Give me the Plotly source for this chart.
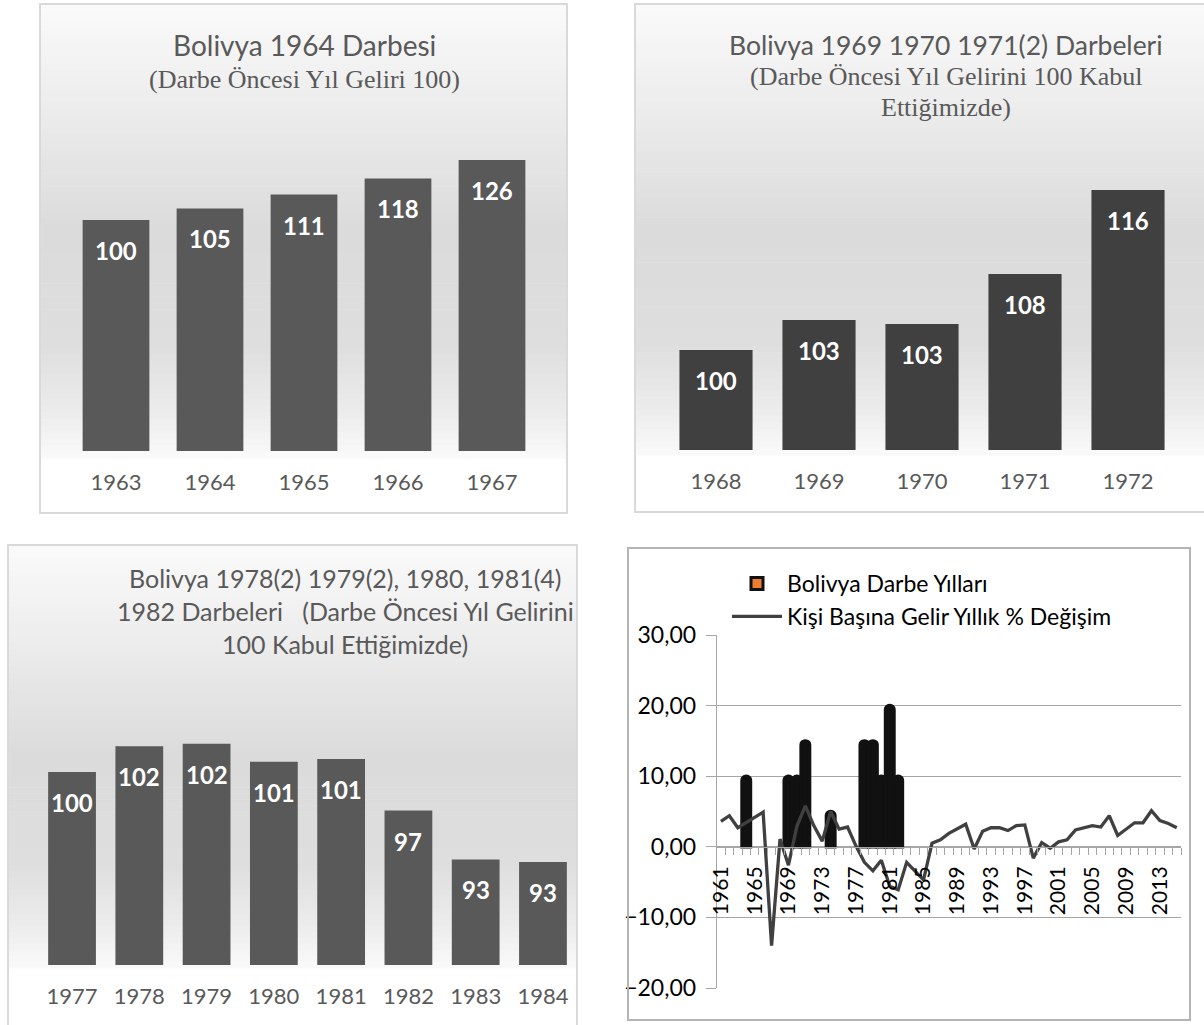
import plotly.graph_objects as go

W, H = 1204, 1025

# panel 1: 1964 coup
p1_years = ["1963", "1964", "1965", "1966", "1967"]
p1_vals = [100, 105, 111, 118, 126]

# panel 2: 1969-1971 coups
p2_years = ["1968", "1969", "1970", "1971", "1972"]
p2_vals = [100, 103.0, 102.6, 107.6, 116.0]

# panel 3: 1978-1982 coups
p3_years = ["1977", "1978", "1979", "1980", "1981", "1982", "1983", "1984"]
p3_vals = [100, 102.0, 102.2, 100.8, 101.0, 97.0, 93.2, 93.0]

# panel 4: coup years and per-capita income growth
coup_years = [1964, 1969, 1970, 1971, 1974, 1978, 1979, 1980, 1981, 1982]
coup_bars = [10, 10, 10, 15, 5, 15, 15, 10, 20, 10]
years = list(range(1961, 2016))
growth = [3.6, 4.4, 2.7, 3.4, 4.2, 4.9, -14.0, 1.1, -2.6, 2.9,
          5.8, 3.0, 0.8, 5.0, 2.5, 2.8, 0.1, -2.2, -3.4, -1.9,
          -5.6, -6.1, -2.2, -3.4, -4.7, 0.5, 1.0, 1.9, 2.6, 3.2,
          -0.3, 2.2, 2.7, 2.7, 2.3, 3.0, 3.1, -1.6, 0.6, -0.2,
          0.7, 1.0, 2.4, 2.7, 3.0, 2.8, 4.4, 1.6, 2.5, 3.4,
          3.4, 5.1, 3.7, 3.3, 2.7]
year_ticks = list(range(1961, 2016, 4))


def px(x):
    return x / W


def py(y):
    return 1 - y / H


SANS = "Lato, Calibri, sans-serif"
SERIF = "Liberation Serif, Times New Roman, serif"

fig = go.Figure()
shapes = []
annotations = []


def add_gradient(x0, x1, y0, y1, stops, n=70):
    # stepped vertical gradient (shapes have no gradient fill)
    for i in range(n):
        f = (i + 0.5) / n
        for (a, ga), (b, gb) in zip(stops[:-1], stops[1:]):
            if a <= f <= b:
                g = ga + (gb - ga) * (f - a) / (b - a)
                break
        g = int(round(g))
        ya = y0 + (y1 - y0) * i / n
        yb = y0 + (y1 - y0) * (i + 1) / n + 0.6
        shapes.append(dict(type="rect", xref="paper", yref="paper", layer="below",
                           x0=px(x0), x1=px(x1), y0=py(ya), y1=py(yb),
                           line=dict(width=0), fillcolor=f"rgb({g},{g},{g})"))


def add_box(x0, x1, y0, y1, color="#d9d9d9"):
    shapes.append(dict(type="rect", xref="paper", yref="paper", layer="above",
                       x0=px(x0), x1=px(x1), y0=py(y1), y1=py(y0),
                       line=dict(color=color, width=2), fillcolor="rgba(0,0,0,0)"))


stops = [(0, 250), (0.2, 238), (0.5, 219), (0.75, 222), (0.9, 236), (1.0, 250)]
add_gradient(40, 567, 5, 458, stops)
add_gradient(635, 1204, 5, 455, stops)
add_gradient(8, 577, 546, 968, stops)

add_box(40, 567, 4, 513)
add_box(635, 1205, 4, 512)
add_box(8, 577, 545, 1026)
add_box(628, 1190, 548, 1020, "#b4b4b4")

# ---- bar panels
panels = [
    ("x", "y", p1_years, p1_vals, "#595959", [69, 539], [451, 127.6], [0, 140]),
    ("x2", "y2", p2_years, p2_vals, "#404040", [664.5, 1179.5], [450, 130], [90, 122]),
    ("x3", "y3", p3_years, p3_vals, "#595959", [38.4, 576.6], [965, 643.25], [85, 110]),
]
layout_axes = {}
for i, (xa, ya, cats, vals, col, xd, yd, yr) in enumerate(panels):
    fig.add_trace(go.Bar(x=cats, y=vals, xaxis=xa, yaxis=ya, marker=dict(color=col, line=dict(width=0)),
                         width=0.71, showlegend=False, hoverinfo="skip"))
    xkey = "xaxis" if i == 0 else f"xaxis{i + 1}"
    ykey = "yaxis" if i == 0 else f"yaxis{i + 1}"
    layout_axes[xkey] = dict(domain=[px(xd[0]), px(xd[1])], anchor=ya, type="category",
                             range=[-0.5, len(cats) - 0.5], automargin=False,
                             showgrid=False, showline=False, ticks="", ticklabelstandoff=16,
                             tickfont=dict(family=SANS, size=22, color="#595959"))
    layout_axes[ykey] = dict(domain=[py(yd[0]), py(yd[1])], anchor=xa, range=yr,
                             visible=False, showgrid=False, automargin=False)
    # value labels, placed by category index
    for k, v in enumerate(vals):
        annotations.append(dict(x=k, y=v, xref=xa, yref=ya, text=f"<b>{v:.0f}</b>",
                                showarrow=False, yanchor="top", yshift=-14,
                                font=dict(family=SANS, size=24, color="white")))

# ---- combo panel
fig.add_trace(go.Bar(x=coup_years, y=coup_bars, xaxis="x4", yaxis="y4", width=1,
                     marker=dict(color="#111111", cornerradius=4, line=dict(color="#111111", width=3.5)),
                     showlegend=False, hoverinfo="skip"))
fig.add_trace(go.Bar(x=[None], y=[None], xaxis="x4", yaxis="y4", name="Bolivya Darbe Yılları",
                     marker=dict(color="#ED7D31", line=dict(color="#111111", width=3))))
fig.add_trace(go.Scatter(x=years, y=growth, xaxis="x4", yaxis="y4", mode="lines",
                         name="Kişi Başına Gelir Yıllık % Değişim",
                         line=dict(color="#404040", width=3.3)))

layout_axes["xaxis4"] = dict(domain=[px(716.7), px(1181)], range=[1960.5, 2015.5],
                             anchor="free", position=py(847), showgrid=False, automargin=False,
                             showline=True, linecolor="#a6a6a6", linewidth=1,
                             tickmode="array", tickvals=year_ticks, ticktext=[str(y) for y in year_ticks],
                             tickangle=-90, ticks="", ticklabelstandoff=10,
                             minor=dict(ticks="outside", ticklen=7, tickcolor="#a6a6a6",
                                        tick0=1960.5, dtick=1, showgrid=False),
                             tickfont=dict(family=SANS, size=21, color="black"), zeroline=False)
layout_axes["yaxis4"] = dict(domain=[py(988), py(635)], range=[-20, 30], anchor="x4",
                             tickvals=[-20, -10, 0, 10, 20, 30], tickformat=".2f", automargin=False,
                             showgrid=True, gridcolor="#a6a6a6", gridwidth=1,
                             showline=True, linecolor="#a6a6a6", ticks="outside", ticklen=10,
                             tickcolor="#a6a6a6", zeroline=False, ticklabelstandoff=5,
                             tickfont=dict(family=SANS, size=23, color="black"))

# ---- titles
titles = [
    (304, 45, "Bolivya 1964 Darbesi", SANS, 28),
    (304, 80, "(Darbe Öncesi Yıl Geliri 100)", SERIF, 26),
    (946, 45, "Bolivya 1969 1970 1971(2) Darbeleri", SANS, 26.5),
    (946, 77, "(Darbe Öncesi Yıl Gelirini 100 Kabul", SERIF, 26),
    (946, 108, "Ettiğimizde)", SERIF, 26),
    (345, 578, "Bolivya 1978(2) 1979(2), 1980, 1981(4)", SANS, 25),
    (345, 611, "1982 Darbeleri &nbsp;&nbsp;(Darbe Öncesi Yıl Gelirini", SANS, 25),
    (345, 644, "100 Kabul Ettiğimizde)", SANS, 25),
]
for x, y, t, fam, s in titles:
    annotations.append(dict(x=px(x), y=py(y), xref="paper", yref="paper", text=t,
                            showarrow=False, xanchor="center", yanchor="middle",
                            font=dict(family=fam, size=s, color="#595959")))

fig.update_layout(
    width=W, height=H, margin=dict(l=0, r=0, t=0, b=0, autoexpand=False),
    paper_bgcolor="white", plot_bgcolor="rgba(0,0,0,0)",
    barmode="overlay", separators=",.",
    shapes=shapes, annotations=annotations,
    legend=dict(x=px(727), y=py(562), xanchor="left", yanchor="top",
                font=dict(family=SANS, size=23, color="black"), bgcolor="rgba(0,0,0,0)",
                itemwidth=50, tracegroupgap=0),
    **layout_axes,
)

# drop the page's default body margin so the figure sits at the window origin
fig.write_html("out.html", config={"displayModeBar": False},
               post_script="document.body.style.margin='0px';")
